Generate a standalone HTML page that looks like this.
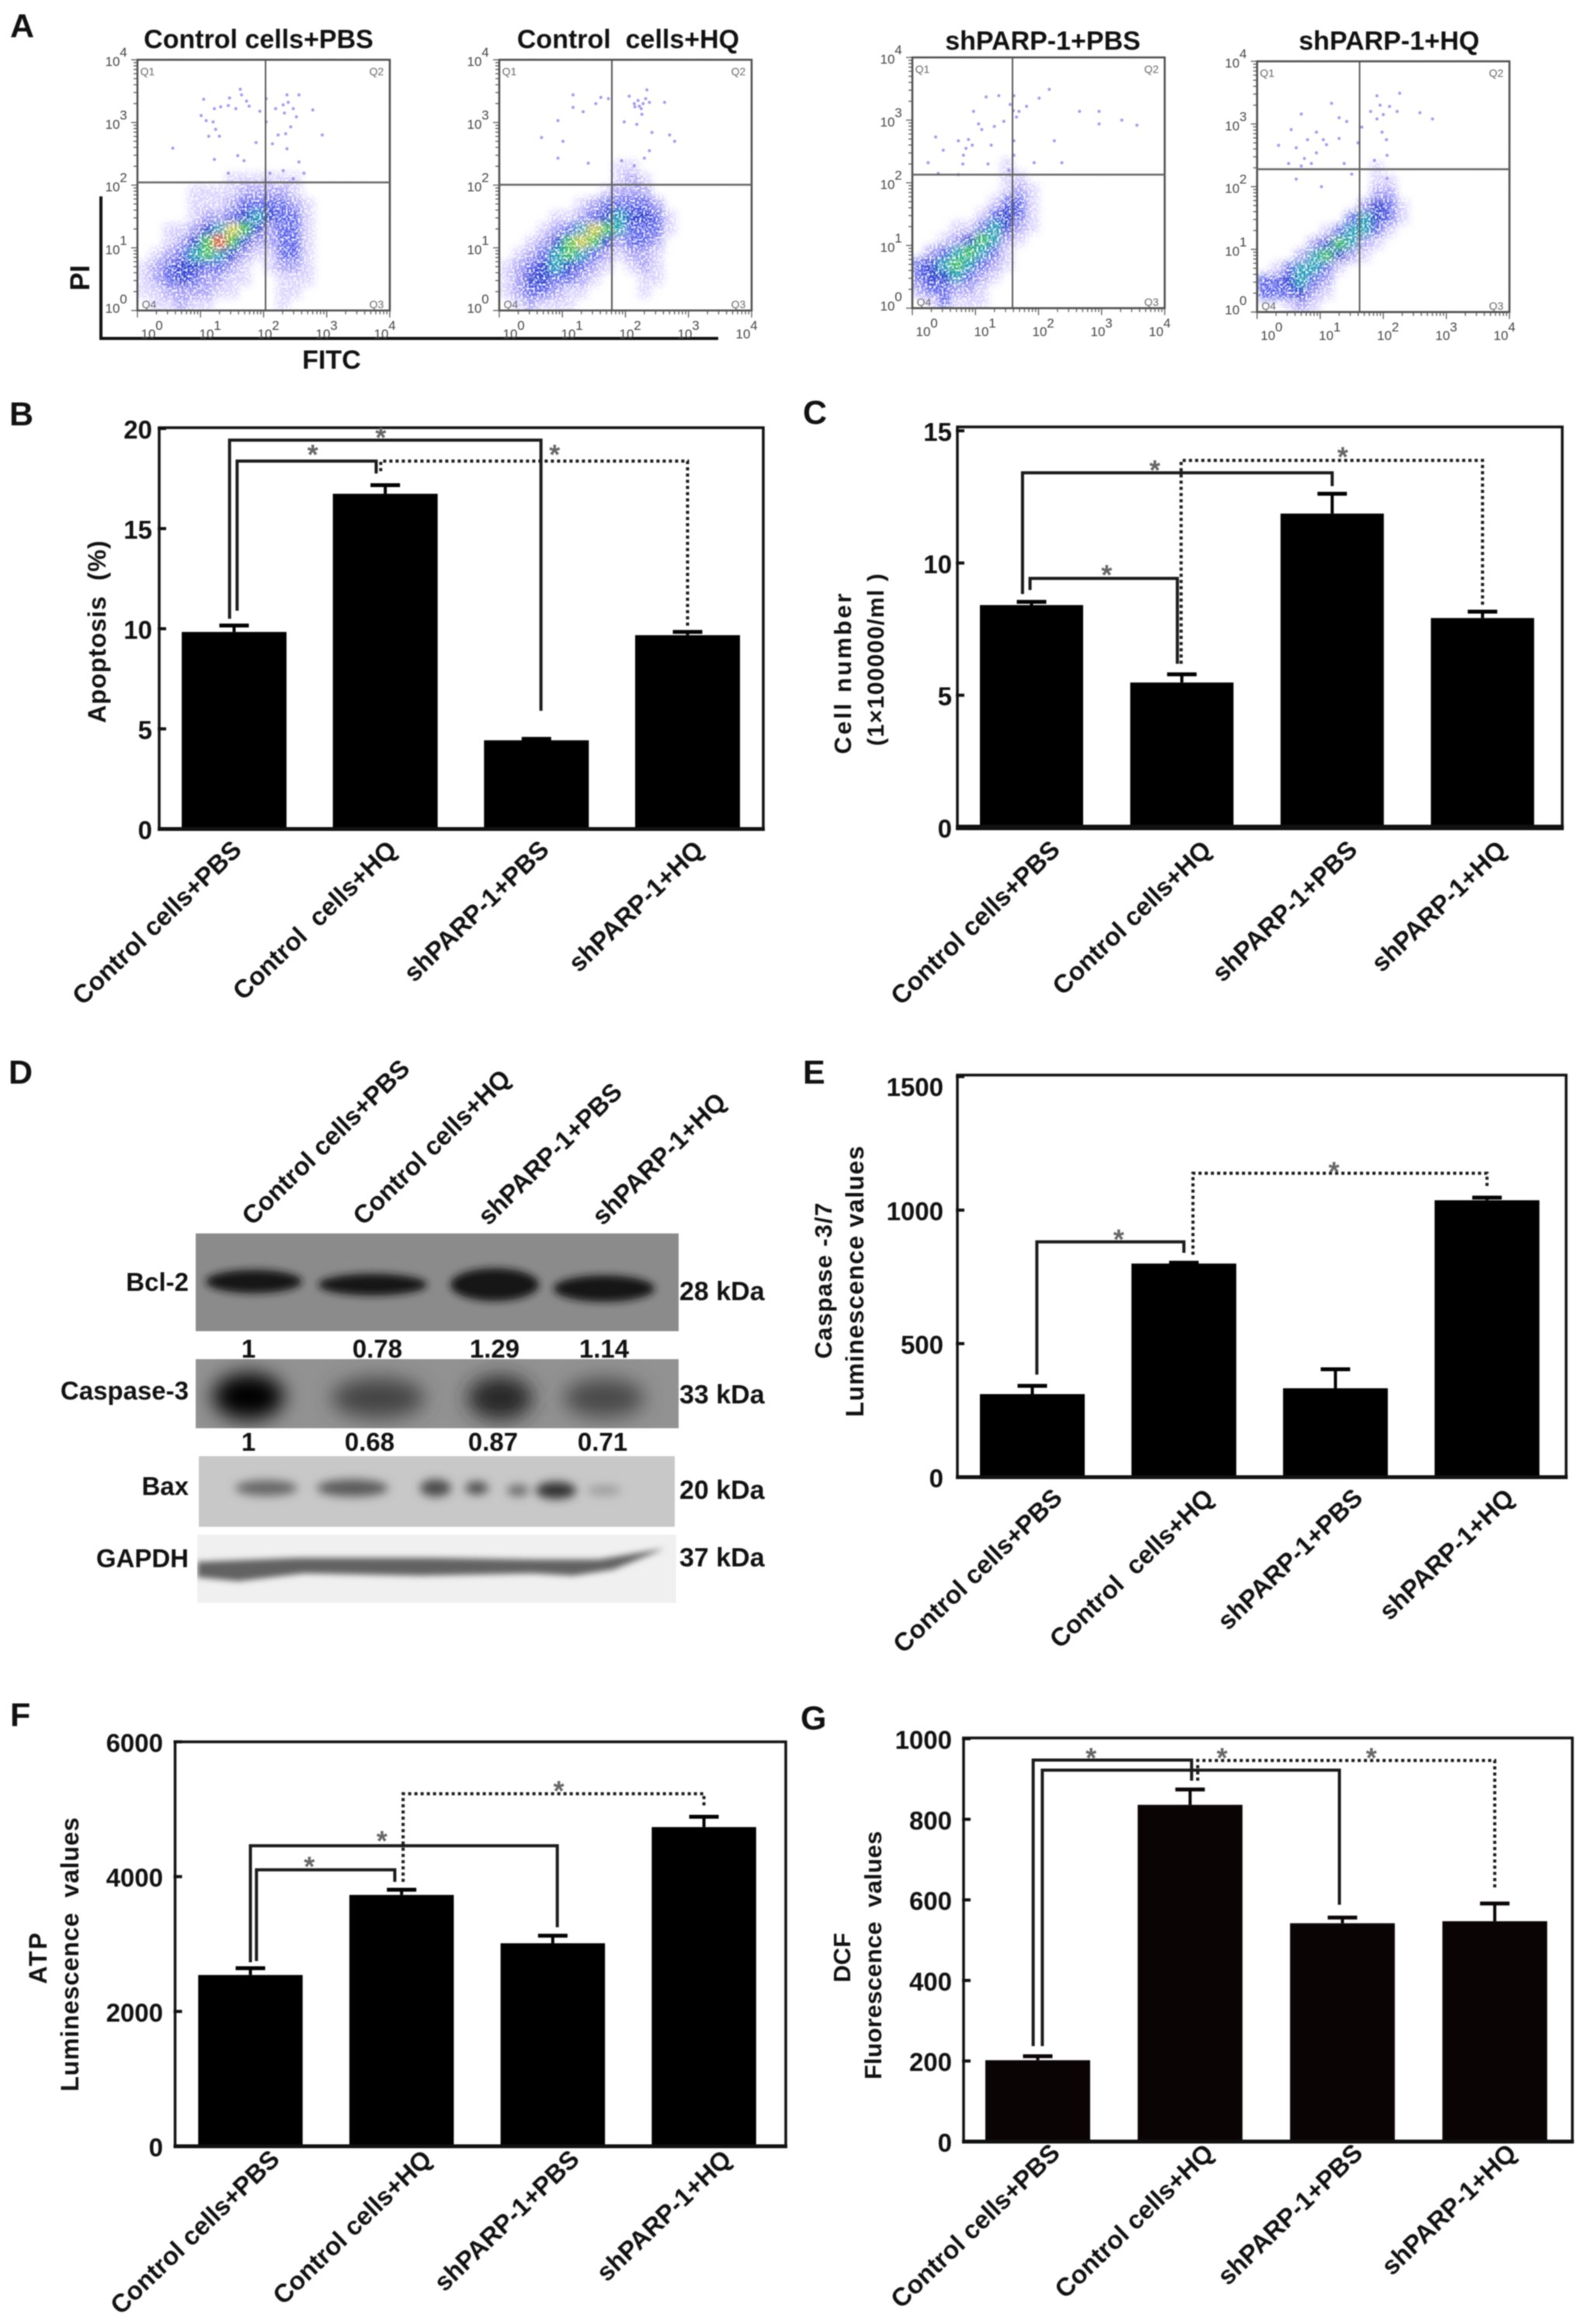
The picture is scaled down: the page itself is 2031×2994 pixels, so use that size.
<!DOCTYPE html>
<html lang="en">
<head>
<meta charset="utf-8">
<title>Apoptosis, cell number, caspase, ATP and DCF in shPARP-1 cells</title>
<style>
html,body{margin:0;padding:0;background:#fff;}
svg{display:block;filter:blur(0.7px);}
text{font-family:"Liberation Sans",sans-serif;fill:#111;white-space:pre;}
.b{font-weight:bold;}
</style>
</head>
<body>
<svg id="figure" xmlns="http://www.w3.org/2000/svg" width="2031" height="2994" viewBox="0 0 2031 2994">
<defs>
<filter id="blur-density" x="-10%" y="-10%" width="120%" height="120%"><feGaussianBlur stdDeviation="5"/></filter>
<filter id="speckle" x="0" y="0" width="100%" height="100%" color-interpolation-filters="sRGB"><feTurbulence type="fractalNoise" baseFrequency="0.38" numOctaves="1" seed="4"/><feColorMatrix values="0 0 0 0 1  0 0 0 0 1  0 0 0 0 1  4 0 0 0 -1.75"/></filter>
<filter id="blur-band" x="-30%" y="-60%" width="160%" height="220%"><feGaussianBlur stdDeviation="5"/></filter>
<filter id="blur-band-wide" x="-40%" y="-60%" width="180%" height="220%"><feGaussianBlur stdDeviation="13"/></filter>
<filter id="blur-bax" x="-30%" y="-80%" width="160%" height="260%"><feGaussianBlur stdDeviation="6"/></filter>
<filter id="blur-gapdh" x="-5%" y="-30%" width="110%" height="160%"><feGaussianBlur stdDeviation="4"/></filter>
<clipPath id="clip-bcl"><rect x="252" y="1589" width="622" height="126"/></clipPath>
<clipPath id="clip-casp"><rect x="252" y="1751" width="622" height="89"/></clipPath>
<clipPath id="clip-bax"><rect x="256" y="1876" width="613" height="91"/></clipPath>
<clipPath id="clip-gapdh"><rect x="254" y="1977" width="617" height="88"/></clipPath>
</defs>

<g>
<text class="b" x="13" y="48" font-size="43">A</text>
<text class="b" x="12" y="548" font-size="43">B</text>
<text class="b" x="1034" y="546" font-size="43">C</text>
<text class="b" x="11" y="1396" font-size="43">D</text>
<text class="b" x="1034" y="1396" font-size="43">E</text>
<text class="b" x="13" y="2224" font-size="43">F</text>
<text class="b" x="1031" y="2228" font-size="43">G</text>
</g>

<g id="panel-a">
<text class="b" x="333" y="62" font-size="34" text-anchor="middle">Control cells+PBS</text>
<text class="b" x="809" y="62" font-size="34" text-anchor="middle">Control  cells+HQ</text>
<text class="b" x="1343" y="64" font-size="34" text-anchor="middle">shPARP-1+PBS</text>
<text class="b" x="1789" y="64" font-size="34" text-anchor="middle">shPARP-1+HQ</text>
<path d="M130 253V436H925" fill="none" stroke="#111" stroke-width="4"/>
<text class="b" transform="translate(115,358) rotate(-90)" font-size="35" text-anchor="middle">PI</text>
<text class="b" x="427" y="475" font-size="34" text-anchor="middle">FITC</text>
</g>

<g id="panel-b">
<text class="b" transform="translate(136,814) rotate(-90)" font-size="32" text-anchor="middle" textLength="235" lengthAdjust="spacing">Apoptosis  (%)</text>
</g>
<g id="panel-c">
<text class="b" transform="translate(1096,868) rotate(-90)" font-size="31" text-anchor="middle" textLength="207" lengthAdjust="spacing">Cell number</text>
<text class="b" transform="translate(1138,850) rotate(-90)" font-size="30" text-anchor="middle" textLength="222" lengthAdjust="spacing">(1×100000/ml )</text>
</g>

<g id="panel-d">
<g id="blot-labels">
<text class="b" transform="translate(325,1580) rotate(-44.5)" font-size="33">Control cells+PBS</text>
<text class="b" transform="translate(468,1580) rotate(-44.5)" font-size="33">Control cells+HQ</text>
<text class="b" transform="translate(629,1580) rotate(-44.5)" font-size="33">shPARP-1+PBS</text>
<text class="b" transform="translate(776,1580) rotate(-44.5)" font-size="33">shPARP-1+HQ</text>
</g>
<g clip-path="url(#clip-bcl)">
<rect x="252" y="1589" width="622" height="126" fill="#8b8b8b"/>
<g filter="url(#blur-band)" fill="#171717">
<ellipse cx="327" cy="1651" rx="62" ry="15"/>
<ellipse cx="480" cy="1655" rx="70" ry="14"/>
<ellipse cx="637" cy="1655" rx="57" ry="21"/>
<ellipse cx="778" cy="1660" rx="65" ry="17"/>
</g>
</g>
<g clip-path="url(#clip-casp)">
<rect x="252" y="1751" width="622" height="89" fill="#929292"/>
<g filter="url(#blur-band-wide)">
<ellipse cx="320" cy="1799" rx="46" ry="30" fill="#000"/>
<ellipse cx="487" cy="1801" rx="60" ry="26" fill="#454545"/>
<ellipse cx="644" cy="1801" rx="42" ry="28" fill="#262626"/>
<ellipse cx="778" cy="1801" rx="52" ry="25" fill="#4a4a4a"/>
</g>
</g>
<g clip-path="url(#clip-bax)">
<rect x="256" y="1876" width="613" height="91" fill="#c8c8c8"/>
<g filter="url(#blur-bax)">
<ellipse cx="343" cy="1917" rx="40" ry="10" fill="#666"/>
<ellipse cx="454" cy="1917" rx="46" ry="11" fill="#5a5a5a"/>
<ellipse cx="561" cy="1917" rx="20" ry="11" fill="#4a4a4a"/>
<ellipse cx="614" cy="1917" rx="15" ry="8" fill="#4a4a4a"/>
<ellipse cx="667" cy="1920" rx="14" ry="7" fill="#666"/>
<ellipse cx="716" cy="1920" rx="26" ry="11" fill="#333"/>
<ellipse cx="778" cy="1920" rx="22" ry="6" fill="#999"/>
</g>
</g>
<g clip-path="url(#clip-gapdh)">
<rect x="254" y="1977" width="617" height="88" fill="#f0f0f0"/>
<path filter="url(#blur-gapdh)" fill="#626262" d="M254 2012L385 2007L555 2007L686 2009L771 2009L856 1995L790 2022L738 2030L686 2027L542 2030L392 2027L307 2037L254 2032Z"/>
</g>
<g>
<text class="b" x="243" y="1663" font-size="33" text-anchor="end">Bcl-2</text>
<text class="b" x="243" y="1803" font-size="33" text-anchor="end">Caspase-3</text>
<text class="b" x="243" y="1926" font-size="33" text-anchor="end">Bax</text>
<text class="b" x="243" y="2019" font-size="33" text-anchor="end">GAPDH</text>
</g>
<g>
<text class="b" x="875" y="1675" font-size="34">28 kDa</text>
<text class="b" x="875" y="1808" font-size="34">33 kDa</text>
<text class="b" x="875" y="1931" font-size="34">20 kDa</text>
<text class="b" x="875" y="2018" font-size="34">37 kDa</text>
</g>
<g text-anchor="middle">
<text class="b" x="320" y="1749" font-size="33">1</text>
<text class="b" x="486" y="1749" font-size="33">0.78</text>
<text class="b" x="637" y="1749" font-size="33">1.29</text>
<text class="b" x="778" y="1749" font-size="33">1.14</text>
<text class="b" x="320" y="1869" font-size="33">1</text>
<text class="b" x="476" y="1869" font-size="33">0.68</text>
<text class="b" x="635" y="1869" font-size="33">0.87</text>
<text class="b" x="776" y="1869" font-size="33">0.71</text>
</g>
</g>

<g id="panel-e">
<text class="b" transform="translate(1071,1650) rotate(-90)" font-size="31" text-anchor="middle" textLength="201" lengthAdjust="spacing">Caspase -3/7</text>
<text class="b" transform="translate(1112,1651) rotate(-90)" font-size="32" text-anchor="middle" textLength="349" lengthAdjust="spacing">Luminescence values</text>
</g>
<g id="panel-f">
<text class="b" transform="translate(60,2523) rotate(-90)" font-size="32" text-anchor="middle" textLength="66" lengthAdjust="spacing">ATP</text>
<text class="b" transform="translate(101,2518) rotate(-90)" font-size="32" text-anchor="middle" textLength="353" lengthAdjust="spacing">Luminescence  values</text>
</g>
<g id="panel-g">
<text class="b" transform="translate(1095,2522) rotate(-90)" font-size="31" text-anchor="middle" textLength="64" lengthAdjust="spacing">DCF</text>
<text class="b" transform="translate(1135,2519) rotate(-90)" font-size="31" text-anchor="middle" textLength="320" lengthAdjust="spacing">Fluorescence  values</text>
</g>
</svg>

<script>
/* ---------- bar chart data ---------- */
const apoptosisCategories = ["Control cells+PBS", "Control  cells+HQ", "shPARP-1+PBS", "shPARP-1+HQ"];
const apoptosisValues = [9.84, 16.74, 4.43, 9.68];
const apoptosisErrorTops = [10.16, 17.17, 4.5, 9.84];
const apoptosisTicks = [0, 5, 10, 15, 20];
const apoptosisBrackets = [
  {x1: -0.03, x2: 2.03, top: 19.42, end1: 10.5, end2: 5.9, dotted: false},
  {x1: 0.02, x2: 0.94, top: 18.37, end1: 10.9, end2: 17.75, dotted: false},
  {x1: 0.97, x2: 3.0, top: 18.37, end1: 17.87, end2: 10.15, dotted: true}
];
const apoptosisStars = [[0.97, 19.85], [0.52, 19.0], [2.12, 19.0]];

const cellCategories = ["Control cells+PBS", "Control cells+HQ", "shPARP-1+PBS", "shPARP-1+HQ"];
const cellValues = [8.41, 5.48, 11.87, 7.92];
const cellErrorTops = [8.53, 5.79, 12.62, 8.16];
const cellTicks = [0, 5, 10, 15];
const cellBrackets = [
  {x1: -0.06, x2: 2.0, top: 13.41, end1: 8.83, end2: 12.91, dotted: false},
  {x1: -0.01, x2: 0.97, top: 9.42, end1: 8.98, end2: 6.19, dotted: false},
  {x1: 0.995, x2: 3.0, top: 13.88, end1: 6.19, end2: 8.38, dotted: true}
];
const cellStars = [[0.82, 13.74], [0.5, 9.77], [2.07, 14.24]];

const caspaseCategories = ["Control cells+PBS", "Control  cells+HQ", "shPARP-1+PBS", "shPARP-1+HQ"];
const caspaseValues = [311, 800, 333, 1037];
const caspaseErrorTops = [342, 803, 404, 1047];
const caspaseTicks = [0, 500, 1000, 1500];
const caspaseBrackets = [
  {x1: 0.03, x2: 1.0, top: 881, end1: 384, end2: 840, dotted: false},
  {x1: 1.06, x2: 3.0, top: 1138, end1: 833, end2: 1084, dotted: true}
];
const caspaseStars = [[0.57, 913], [1.99, 1166]];

const atpCategories = ["Control cells+PBS", "Control cells+HQ", "shPARP-1+PBS", "shPARP-1+HQ"];
const atpValues = [2541, 3729, 3012, 4735];
const atpErrorTops = [2641, 3806, 3124, 4888];
const atpTicks = [0, 2000, 4000, 6000];
const atpBrackets = [
  {x1: 0, x2: 2.03, top: 4458, end1: 2730, end2: 3249, dotted: false},
  {x1: 0.04, x2: 0.955, top: 4101, end1: 2748, end2: 3923, dotted: false},
  {x1: 1.01, x2: 3.0, top: 5230, end1: 3923, end2: 5012, dotted: true}
];
const atpStars = [[0.87, 4620], [0.39, 4240], [2.04, 5363]];

const dcfCategories = ["Control cells+PBS", "Control cells+HQ", "shPARP-1+PBS", "shPARP-1+HQ"];
const dcfValues = [202, 836, 542, 547];
const dcfErrorTops = [212, 874, 556, 591];
const dcfTicks = [0, 200, 400, 600, 800, 1000];
const dcfBrackets = [
  {x1: -0.03, x2: 1.01, top: 947, end1: 237, end2: 896, dotted: false},
  {x1: 0.03, x2: 1.98, top: 922, end1: 237, end2: 588, dotted: false},
  {x1: 1.05, x2: 3.0, top: 946, end1: 896, end2: 630, dotted: true}
];
const dcfStars = [[0.35, 967], [1.21, 967], [2.19, 967]];

/* ---------- flow cytometry data: density rows (top to bottom), sparse events in log10 units ---------- */
const flowDecades = [0, 1, 2, 3, 4];
const flowQuadrants = ["Q1", "Q2", "Q3", "Q4"];

const densityControlPbs = [
 [0,0,0,0,0,0,0,0,0,0,0,0,0,0,0,0,0,0,0,0],
 [0,0,0,0,0,0,0,0,0,0,0,0,0,0,0,0,0,0,0,0],
 [0,0,0,0,0,0,0,0,0,0,0,0,0,0,0,0,0,0,0,0],
 [0,0,0,0,0,0,0,0,0,0,0,0,0,0,0,0,0,0,0,0],
 [0,0,0,0,0,0,0,0,0,0,0,0,0,0,0,0,0,0,0,0],
 [0,0,0,0,0,0,0,0,0,0,0,0,0,0,0,0,0,0,0,0],
 [0,0,0,0,0,0,0,0,0,0,0,0,0,0,0,0,0,0,0,0],
 [0,0,0,0,0,0,0,0,0,0,0,0,0,0,0,0,0,0,0,0],
 [0,0,0,0,0,0,0,0,0,0,0,0,0,0,0,0,0,0,0,0],
 [0,0,0,0,0,0,0,1,1,1,1,1,1,0,0,0,0,0,0,0],
 [0,0,0,0,1,1,1,1,2,2,2,2,1,0,0,0,0,0,0,0],
 [0,0,0,0,1,1,1,2,3,3,3,3,2,1,0,0,0,0,0,0],
 [0,0,0,0,1,2,2,3,4,5,4,3,3,1,0,0,0,0,0,0],
 [0,0,1,1,2,4,5,7,6,4,2,3,3,1,0,0,0,0,0,0],
 [0,0,1,2,4,6,8,6,4,2,2,3,3,1,0,0,0,0,0,0],
 [0,1,2,3,5,6,5,4,2,1,1,3,3,1,0,0,0,0,0,0],
 [1,2,3,4,4,3,3,2,1,0,1,2,2,1,0,0,0,0,0,0],
 [1,2,3,4,3,2,2,1,1,0,0,1,1,1,0,0,0,0,0,0],
 [1,1,2,2,2,2,1,1,0,0,0,1,1,0,0,0,0,0,0,0],
 [0,1,1,2,1,1,0,0,0,0,0,1,0,0,0,0,0,0,0,0]
];
const sparseControlPbsX = [1.05,1.22,1.32,1.46,1.44,1.56,1.65,1.63,1.73,1.77,1.94,2.04,2.19,2.31,2.37,2.39,2.47,2.56,2.33,2.52,2.78,1.01,1.09,1.2,1.24,1.3,1.13,0.56,2.43,2.35,2.23,2.14,1.88,2.04,2.93,2.37,2.56,1.22,1.69,1.59,1.44,2.1,2.31,2.47,2.64];
const sparseControlPbsY = [3.37,3.22,3.25,3.39,3.27,3.22,3.44,3.53,3.34,3.26,3.18,3.38,3.22,3.28,3.44,3.32,3.22,3.44,3.15,3.09,3.2,3.11,3.03,3.01,2.89,2.78,2.78,2.59,2.93,2.82,2.8,2.66,2.68,3.01,2.8,2.58,2.37,2.41,2.39,2.47,2.19,2.19,2.23,2.1,2.19];

const densityControlHq = [
 [0,0,0,0,0,0,0,0,0,0,0,0,0,0,0,0,0,0,0,0],
 [0,0,0,0,0,0,0,0,0,0,0,0,0,0,0,0,0,0,0,0],
 [0,0,0,0,0,0,0,0,0,0,0,0,0,0,0,0,0,0,0,0],
 [0,0,0,0,0,0,0,0,0,0,0,0,0,0,0,0,0,0,0,0],
 [0,0,0,0,0,0,0,0,0,0,0,0,0,0,0,0,0,0,0,0],
 [0,0,0,0,0,0,0,0,0,0,0,0,0,0,0,0,0,0,0,0],
 [0,0,0,0,0,0,0,0,0,0,0,0,0,0,0,0,0,0,0,0],
 [0,0,0,0,0,0,0,0,0,0,0,0,0,0,0,0,0,0,0,0],
 [0,0,0,0,0,0,0,0,0,1,1,0,0,0,0,0,0,0,0,0],
 [0,0,0,0,0,0,0,0,0,1,2,1,0,0,0,0,0,0,0,0],
 [0,0,0,0,0,0,0,0,1,2,2,2,0,0,0,0,0,0,0,0],
 [0,0,0,0,0,0,1,2,3,3,3,3,2,0,0,0,0,0,0,0],
 [0,0,0,0,1,1,2,3,4,5,4,4,3,1,0,0,0,0,0,0],
 [0,0,0,1,2,3,5,7,6,5,3,3,3,1,0,0,0,0,0,0],
 [0,0,1,2,4,6,7,6,4,2,3,3,2,0,0,0,0,0,0,0],
 [0,1,2,3,5,6,5,3,2,1,2,2,1,0,0,0,0,0,0,0],
 [1,2,3,4,5,4,3,2,1,0,1,2,1,0,0,0,0,0,0,0],
 [1,2,4,4,3,3,2,1,0,0,0,1,1,0,0,0,0,0,0,0],
 [1,2,3,3,2,1,1,0,0,0,0,1,0,0,0,0,0,0,0,0],
 [0,1,2,1,1,1,0,0,0,0,0,0,0,0,0,0,0,0,0,0]
];
const sparseControlHqX = [1.17,1.61,1.53,2.06,2.14,2.22,2.34,2.38,2.62,2.26,2.18,1.98,0.93,1.17,0.67,1.01,0.93,1.33,1.73,2.7,2.78,2.42,2.38,2.3,2.14,1.94,1.41,2.2,2.28,2.25,2.32,2.15];
const sparseControlHqY = [3.44,3.4,3.3,3.42,3.3,3.26,3.52,3.32,3.32,3.13,2.97,3.01,3.03,3.24,2.76,2.7,2.43,3.17,3.38,2.8,2.7,2.84,2.55,2.43,2.31,2.39,2.35,3.35,3.3,3.22,3.38,3.25];

const densityShparpPbs = [
 [0,0,0,0,0,0,0,0,0,0,0,0,0,0,0,0,0,0,0,0],
 [0,0,0,0,0,0,0,0,0,0,0,0,0,0,0,0,0,0,0,0],
 [0,0,0,0,0,0,0,0,0,0,0,0,0,0,0,0,0,0,0,0],
 [0,0,0,0,0,0,0,0,0,0,0,0,0,0,0,0,0,0,0,0],
 [0,0,0,0,0,0,0,0,0,0,0,0,0,0,0,0,0,0,0,0],
 [0,0,0,0,0,0,0,0,0,0,0,0,0,0,0,0,0,0,0,0],
 [0,0,0,0,0,0,0,0,0,0,0,0,0,0,0,0,0,0,0,0],
 [0,0,0,0,0,0,0,0,0,0,0,0,0,0,0,0,0,0,0,0],
 [0,0,0,0,0,0,0,1,0,0,0,0,0,0,0,0,0,0,0,0],
 [0,0,0,0,0,0,0,1,1,0,0,0,0,0,0,0,0,0,0,0],
 [0,0,0,0,0,0,0,1,2,1,0,0,0,0,0,0,0,0,0,0],
 [0,0,0,0,0,0,1,3,3,1,0,0,0,0,0,0,0,0,0,0],
 [0,0,0,0,0,1,3,4,3,1,0,0,0,0,0,0,0,0,0,0],
 [0,0,0,1,1,3,5,4,2,1,0,0,0,0,0,0,0,0,0,0],
 [0,0,1,2,4,6,5,2,1,0,0,0,0,0,0,0,0,0,0,0],
 [0,2,3,5,6,5,3,1,0,0,0,0,0,0,0,0,0,0,0,0],
 [3,4,5,6,5,3,2,1,0,0,0,0,0,0,0,0,0,0,0,0],
 [3,4,4,5,3,2,1,0,0,0,0,0,0,0,0,0,0,0,0,0],
 [2,3,3,2,2,1,0,0,0,0,0,0,0,0,0,0,0,0,0,0],
 [0,1,3,1,1,1,0,0,0,0,0,0,0,0,0,0,0,0,0,0]
];
const sparseShparpPbsX = [1.17,1.37,1.61,1.69,1.81,2.17,2.01,2.65,2.96,2.96,3.32,3.56,2.25,2.37,1.93,1.45,0.97,1.05,0.73,0.89,0.49,0.37,0.81,0.25,0.41,0.73,1.61,1.61,1.53,1.6,1.65,1.55,1.1,0.95,0.85,1.25,1.3,0.8,1.2];
const sparseShparpPbsY = [3.37,3.39,3.39,3.14,3.22,3.49,3.35,3.14,3.14,2.94,3.0,2.92,2.67,2.32,2.32,2.98,3.14,2.94,2.67,2.69,2.52,2.73,2.44,2.32,2.15,2.13,2.44,2.67,2.2,3.15,3.05,3.25,2.85,2.6,2.55,2.6,2.9,2.3,2.3];

const densityShparpHq = [
 [0,0,0,0,0,0,0,0,0,0,0,0,0,0,0,0,0,0,0,0],
 [0,0,0,0,0,0,0,0,0,0,0,0,0,0,0,0,0,0,0,0],
 [0,0,0,0,0,0,0,0,0,0,0,0,0,0,0,0,0,0,0,0],
 [0,0,0,0,0,0,0,0,0,0,0,0,0,0,0,0,0,0,0,0],
 [0,0,0,0,0,0,0,0,0,0,0,0,0,0,0,0,0,0,0,0],
 [0,0,0,0,0,0,0,0,0,0,0,0,0,0,0,0,0,0,0,0],
 [0,0,0,0,0,0,0,0,0,0,0,0,0,0,0,0,0,0,0,0],
 [0,0,0,0,0,0,0,0,0,0,0,0,0,0,0,0,0,0,0,0],
 [0,0,0,0,0,0,0,0,0,1,0,0,0,0,0,0,0,0,0,0],
 [0,0,0,0,0,0,0,0,0,1,1,0,0,0,0,0,0,0,0,0],
 [0,0,0,0,0,0,0,0,0,2,2,0,0,0,0,0,0,0,0,0],
 [0,0,0,0,0,0,0,0,2,4,3,1,0,0,0,0,0,0,0,0],
 [0,0,0,0,0,0,0,3,5,4,3,1,0,0,0,0,0,0,0,0],
 [0,0,0,0,0,1,3,5,5,3,1,0,0,0,0,0,0,0,0,0],
 [0,0,0,0,2,4,6,5,2,1,0,0,0,0,0,0,0,0,0,0],
 [0,0,0,2,5,6,4,2,1,0,0,0,0,0,0,0,0,0,0,0],
 [0,1,3,5,5,3,1,0,0,0,0,0,0,0,0,0,0,0,0,0],
 [3,3,4,5,3,2,0,0,0,0,0,0,0,0,0,0,0,0,0,0],
 [3,3,3,4,2,1,0,0,0,0,0,0,0,0,0,0,0,0,0,0],
 [0,0,1,2,1,0,0,0,0,0,0,0,0,0,0,0,0,0,0,0]
];
const sparseShparpHqX = [1.9,2.1,1.9,2.22,1.18,1.42,0.94,0.7,0.54,0.34,0.62,0.94,1.3,1.66,1.98,2.06,1.86,0.7,0.5,0.86,1.38,2.58,2.78,2.26,1.1,0.62,1.02,2.06,1.95,2.0,1.8,1.3,1.05,0.8,0.75,1.6,2.05,1.5];
const sparseShparpHqY = [3.45,3.28,3.08,3.2,3.33,3.04,2.87,3.16,2.91,2.66,2.62,2.54,2.77,2.95,2.87,2.5,2.42,2.33,2.37,2.37,2.37,3.18,3.08,3.49,2.67,2.12,2.0,2.13,3.3,3.15,3.2,3.1,2.75,2.75,2.45,2.7,2.75,2.2];

/* ---------- layout (pixels and colours, separate from data) ---------- */
const NS = "http://www.w3.org/2000/svg";
const densityColors = ["none", "#d9d2ff", "#a49cf6", "#5a62ea", "#2238cc", "#1fa0b4", "#3cc04a", "#cfc81e", "#f0400f"];
const flowLayouts = [
  {key: "control-pbs", left: 177, top: 77, vline: 342, hline: 235, density: densityControlPbs, xs: sparseControlPbsX, ys: sparseControlPbsY},
  {key: "control-hq", left: 643, top: 77, vline: 788, hline: 238, density: densityControlHq, xs: sparseControlHqX, ys: sparseControlHqY},
  {key: "shparp-pbs", left: 1175, top: 74, vline: 1304, hline: 225, density: densityShparpPbs, xs: sparseShparpPbsX, ys: sparseShparpPbsY},
  {key: "shparp-hq", left: 1619, top: 79, vline: 1751, hline: 218, density: densityShparpHq, xs: sparseShparpHqX, ys: sparseShparpHqY}
];
const FLOW_W = 325, FLOW_H = 323, FLOW_MAX = 4;

function add(tag, parent, attrs) {
  const e = document.createElementNS(NS, tag);
  for (const k in attrs) e.setAttribute(k, attrs[k]);
  parent.appendChild(e);
  return e;
}
function addText(parent, str, x, y, size, bold, anchor, fill) {
  const t = add("text", parent, {x: x, y: y, "font-size": size, "text-anchor": anchor || "start"});
  if (bold) t.setAttribute("class", "b");
  if (fill) t.setAttribute("style", "fill:" + fill);
  t.textContent = str;
  return t;
}

function drawFlowPlot(p) {
  const root = document.getElementById("panel-a");
  const g = add("g", root, {});
  
  
  const xs = d => p.left + d / FLOW_MAX * FLOW_W;
  const ys = d => p.top + FLOW_H - d / FLOW_MAX * FLOW_H;

  const clip = add("clipPath", g, {id: "clip-flow-" + p.key});
  add("rect", clip, {x: p.left, y: p.top, width: FLOW_W, height: FLOW_H});

  const clipped = add("g", g, {"clip-path": "url(#clip-flow-" + p.key + ")"});
  const heat = add("g", clipped, {filter: "url(#blur-density)"});
  
  
  const rows = p.density.length, cols = p.density[0].length;
  const cw = FLOW_W / cols, ch = FLOW_H / rows;
  p.density.forEach((row, r) => row.forEach((level, c) => {
    if (!level) return;
    const cell = add("rect", heat, {x: p.left + c * cw, y: p.top + r * ch, width: cw + 0.5, height: ch + 0.5, fill: densityColors[level]});
    
    
  }));
  const speckle = add("rect", clipped, {x: p.left, y: p.top, width: FLOW_W, height: FLOW_H, filter: "url(#speckle)"});
  
  
  const dots = add("g", clipped, {fill: "#7c70e6", "fill-opacity": "0.7"});
  
  
  p.xs.forEach((vx, i) => {
    const dot = add("circle", dots, {cx: xs(vx), cy: ys(p.ys[i]), r: 2});
    
    
  });

  const frame = add("path", g, {d: "M" + p.left + " " + p.top + "H" + (p.left + FLOW_W) + "V" + (p.top + FLOW_H) + "H" + p.left + "Z", fill: "none", stroke: "#4a4a4a", "stroke-width": 2.5});
  
  
  const vl = add("line", g, {x1: p.vline, x2: p.vline, y1: p.top, y2: p.top + FLOW_H, stroke: "#555", "stroke-width": 2});
  
  
  const hl = add("line", g, {x1: p.left, x2: p.left + FLOW_W, y1: p.hline, y2: p.hline, stroke: "#666", "stroke-width": 2.5});
  
  

  const ticks = add("g", g, {stroke: "#555", "stroke-width": 1.3});
  
  
  flowDecades.forEach(d => {
    add("line", ticks, {x1: xs(d), x2: xs(d), y1: p.top + FLOW_H, y2: p.top + FLOW_H + 9});
    add("line", ticks, {x1: p.left, x2: p.left - 8, y1: ys(d), y2: ys(d)});
    if (d === FLOW_MAX) return;
    for (let k = 2; k < 10; k++) {
      const m = d + Math.log10(k);
      add("line", ticks, {x1: xs(m), x2: xs(m), y1: p.top + FLOW_H, y2: p.top + FLOW_H + 5});
      add("line", ticks, {x1: p.left, x2: p.left - 5, y1: ys(m), y2: ys(m)});
    }
  });

  flowDecades.forEach(d => {
    const lx = p.left + 14 + d * 75;
    const xl = addText(g, "10", lx, p.top + FLOW_H + 36, 17, false, "middle", "#444");
    
    
    const xe = addText(g, String(d), lx + 14, p.top + FLOW_H + 25, 17, false, "middle", "#444");
    
    
    const ly = ys(d) + (d === 0 ? 3 : 8);
    const yl = addText(g, "10", p.left - 32, ly, 17, false, "middle", "#444");
    
    
    const ye = addText(g, String(d), p.left - 18, ly - 12, 17, false, "middle", "#444");
    
    
  });

  const qx = [p.left + 13, p.left + FLOW_W - 17, p.left + FLOW_W - 17, p.left + 15];
  const qy = [p.top + 20, p.top + 20, p.top + FLOW_H - 3, p.top + FLOW_H - 3];
  flowQuadrants.forEach((q, i) => {
    const t = addText(g, q, qx[i], qy[i], 14, false, "middle", "#666");
    
    
  });
}
flowLayouts.forEach(drawFlowPlot);

function drawBarChart(c) {
  const root = document.getElementById(c.panel);
  const g = add("g", root, {});
  
  
  const yMax = c.ticks[c.ticks.length - 1];
  const y = v => c.y0 - v / yMax * (c.y0 - c.yTop);
  const x = i => c.c0 + i * c.step;

  c.values.forEach((v, i) => {
    const stem = add("line", g, {x1: x(i), x2: x(i), y1: y(v), y2: y(c.errorTops[i]), stroke: c.barColor, "stroke-width": 4});
    
    
    const cap = add("line", g, {x1: x(i) - 19, x2: x(i) + 19, y1: y(c.errorTops[i]), y2: y(c.errorTops[i]), stroke: c.barColor, "stroke-width": 5});
    
    
    const bar = add("rect", g, {x: x(i) - c.barW / 2, y: y(v), width: c.barW, height: c.y0 - y(v), fill: c.barColor});
    
    
  });

  const frame = add("path", g, {d: "M" + c.left + " " + c.y0 + "V" + c.frameTop + "H" + c.right + "V" + c.y0, fill: "none", stroke: "#111", "stroke-width": 3.5});
  
  
  const base = add("line", g, {x1: c.left - 2, x2: c.right + 2, y1: c.y0, y2: c.y0, stroke: "#111", "stroke-width": c.baseW});
  
  

  c.ticks.forEach(t => {
    const tk = add("line", g, {x1: c.left - 2, x2: c.left + 9, y1: y(t), y2: y(t), stroke: "#111", "stroke-width": 4});
    
    
    const nudge = t === yMax ? c.topLabelNudge : 0;
    const lb = addText(g, String(t), c.tickLabelX, y(t) + 13 + nudge, c.tickSize, true, "end");
    
    
  });

  c.categories.forEach((name, i) => {
    const t = add("text", g, {transform: "translate(" + c.labelX[i] + "," + c.labelY + ") rotate(-44)", "font-size": 33, "text-anchor": "end", "class": "b"});
    t.textContent = name;
    
    
  });

  c.brackets.forEach((b, i) => {
    const d = "M" + x(b.x1) + " " + y(b.end1) + "V" + y(b.top) + "H" + x(b.x2) + "V" + y(b.end2);
    const p = add("path", g, {d: d, fill: "none", stroke: "#1a1a1a", "stroke-width": 4});
    if (b.dotted) p.setAttribute("stroke-dasharray", "4 4");
    
    
  });
  c.stars.forEach((s, i) => {
    const st = addText(g, "*", x(s[0]), y(s[1]) + 20, 36, true, "middle", "#666");
    
    
  });
}

drawBarChart({key: "apoptosis", panel: "panel-b", left: 205, right: 983, frameTop: 551, yTop: 552, y0: 1068, c0: 301.5, step: 194.67, barW: 135, baseW: 5, barColor: "#000", tickLabelX: 196, tickSize: 33, topLabelNudge: 0, labelX: [313, 513, 709, 908], labelY: 1097, categories: apoptosisCategories, values: apoptosisValues, errorTops: apoptosisErrorTops, ticks: apoptosisTicks, brackets: apoptosisBrackets, stars: apoptosisStars});
drawBarChart({key: "cell-number", panel: "panel-c", left: 1233, right: 2012, frameTop: 550, yTop: 555, y0: 1066, c0: 1328.5, step: 193.6, barW: 133, baseW: 7, barColor: "#000", tickLabelX: 1226, tickSize: 33, topLabelNudge: 0, labelX: [1367, 1562, 1750, 1942], labelY: 1097, categories: cellCategories, values: cellValues, errorTops: cellErrorTops, ticks: cellTicks, brackets: cellBrackets, stars: cellStars});
drawBarChart({key: "caspase", panel: "panel-e", left: 1233, right: 2017, frameTop: 1385, yTop: 1387, y0: 1903, c0: 1329.5, step: 195.2, barW: 135, baseW: 5, barColor: "#000", tickLabelX: 1215, tickSize: 33, topLabelNudge: 12, labelX: [1370, 1565, 1757, 1952], labelY: 1932, categories: caspaseCategories, values: caspaseValues, errorTops: caspaseErrorTops, ticks: caspaseTicks, brackets: caspaseBrackets, stars: caspaseStars});
drawBarChart({key: "atp", panel: "panel-f", left: 225.5, right: 1012, frameTop: 2244, yTop: 2244, y0: 2765, c0: 322.5, step: 194.7, barW: 134.5, baseW: 5, barColor: "#000", tickLabelX: 210, tickSize: 33, topLabelNudge: 0, labelX: [362, 558, 748, 944], labelY: 2784, categories: atpCategories, values: atpValues, errorTops: atpErrorTops, ticks: atpTicks, brackets: atpBrackets, stars: atpStars});
drawBarChart({key: "dcf", panel: "panel-g", left: 1241, right: 2025, frameTop: 2239, yTop: 2240, y0: 2759, c0: 1336.5, step: 196.2, barW: 135, baseW: 5, barColor: "#0a0405", tickLabelX: 1226, tickSize: 33, topLabelNudge: 0, labelX: [1367, 1565, 1757, 1955], labelY: 2776, categories: dcfCategories, values: dcfValues, errorTops: dcfErrorTops, ticks: dcfTicks, brackets: dcfBrackets, stars: dcfStars});
</script>
</body>
</html>
